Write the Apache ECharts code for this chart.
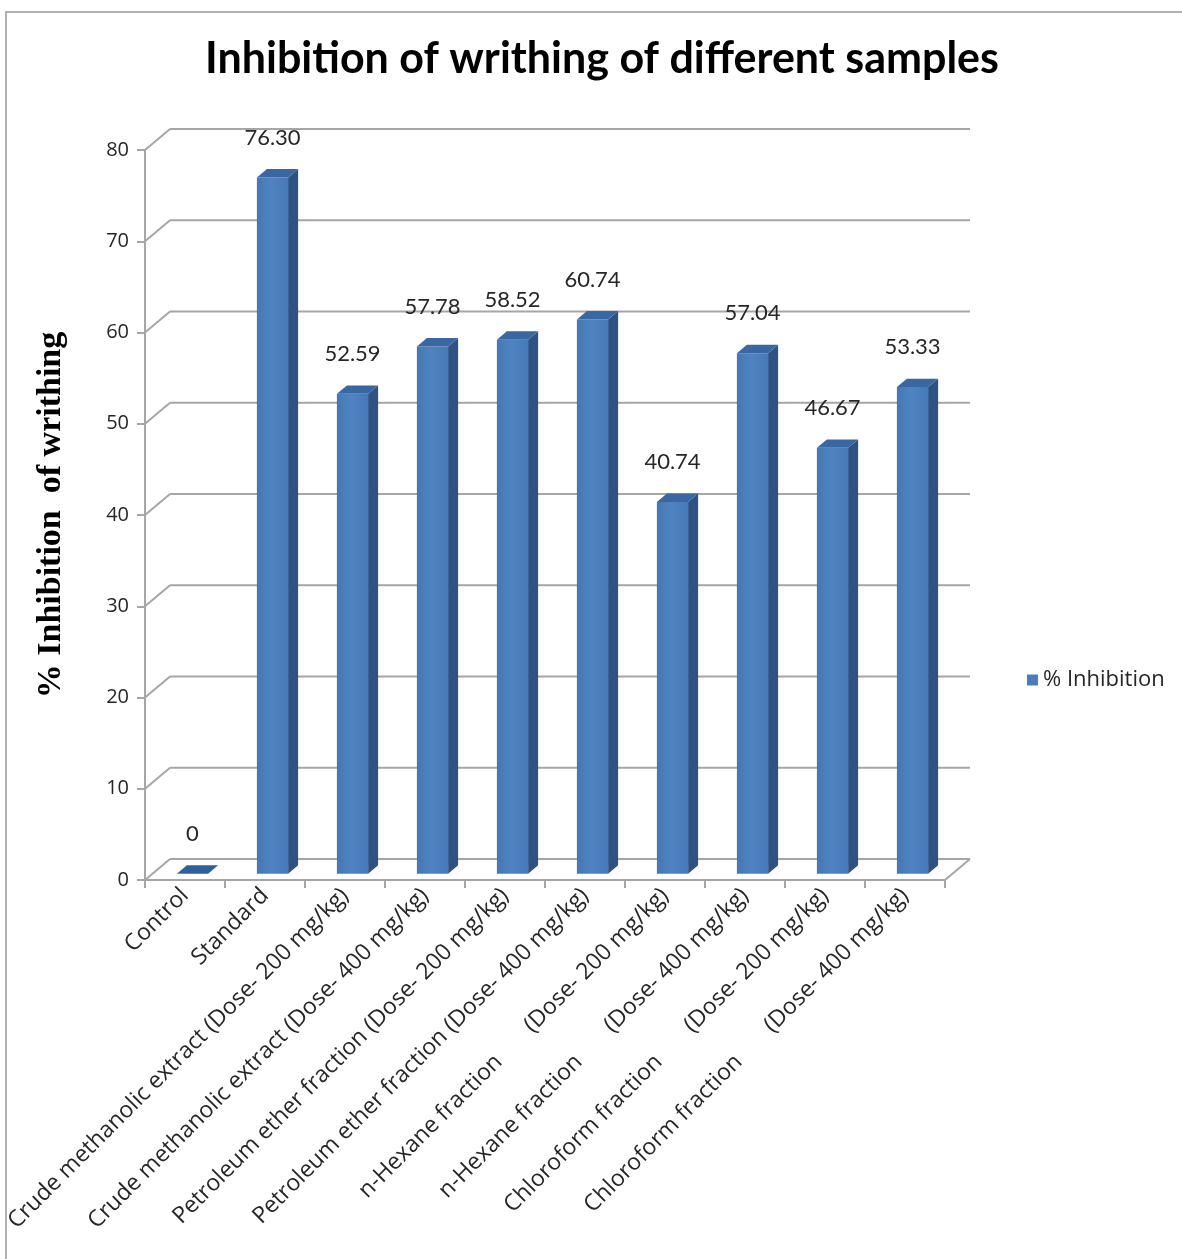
<!DOCTYPE html>
<html>
<head>
<meta charset="utf-8">
<title>Inhibition of writhing of different samples</title>
<script src="https://cdn.jsdelivr.net/npm/echarts@6/dist/echarts.min.js"></script>
<style>
  html, body { margin: 0; padding: 0; background: #ffffff; }
  #chart { width: 1182px; height: 1259px; }
</style>
</head>
<body>
<div id="chart"></div>
<script>
// Sample groups on the category axis
const categories = [
  'Control',
  'Standard',
  'Crude methanolic extract (Dose- 200 mg/kg)',
  'Crude methanolic extract (Dose- 400 mg/kg)',
  'Petroleum ether fraction (Dose- 200 mg/kg)',
  'Petroleum ether fraction (Dose- 400 mg/kg)',
  'n-Hexane fraction       (Dose- 200 mg/kg)',
  'n-Hexane fraction       (Dose- 400 mg/kg)',
  'Chloroform fraction       (Dose- 200 mg/kg)',
  'Chloroform fraction       (Dose- 400 mg/kg)'
];

// % inhibition of writhing per group
const inhibition = [0, 76.30, 52.59, 57.78, 58.52, 60.74, 40.74, 57.04, 46.67, 53.33];

// Value axis ticks
const yTicks = [0, 10, 20, 30, 40, 50, 60, 70, 80];

const seriesName = '% Inhibition';
const titleText = 'Inhibition of writhing of different samples';
const yAxisTitle = '% Inhibition  of writhing';

// Depth of the pseudo-3D box (pixels to the back wall)
const DEPTH_X = 25;
const DEPTH_Y = -21;
// Bars sit between these fractions of the depth
const BAR_FRONT = 0.3;
const BAR_BACK = 0.7;

const FONT_TITLE = 'Lato, "Open Sans", sans-serif';
const FONT = '"Open Sans", Lato, sans-serif';
const GRID_COLOR = '#a6a6a6';
const TEXT_COLOR = '#262626';

const chart = echarts.init(document.getElementById('chart'));

// Back wall gridlines, left wall diagonals and the floor outline
function renderWalls(params, api) {
  const cs = params.coordSys;
  const v = api.value(1);
  const y = api.coord([0, v])[1];
  const x0 = cs.x;
  const x1 = cs.x + cs.width;
  const style = { stroke: GRID_COLOR, lineWidth: 2 };
  const children = [
    { type: 'line', shape: { x1: x0, y1: y, x2: x0 + DEPTH_X, y2: y + DEPTH_Y }, style },
    { type: 'line', shape: { x1: x0 + DEPTH_X, y1: y + DEPTH_Y, x2: x1 + DEPTH_X, y2: y + DEPTH_Y }, style }
  ];
  if (v === yTicks[0]) {
    children.push({ type: 'line', shape: { x1: x1, y1: y, x2: x1 + DEPTH_X, y2: y + DEPTH_Y }, style });
  }
  return { type: 'group', children };
}

// Column drawn as front, side and top faces, with its value above
function renderColumn(params, api) {
  const idx = api.value(0);
  const val = api.value(1);
  const base = api.coord([idx, 0]);
  const top = api.coord([idx, val]);
  const bw = api.size([1, 0])[0] * 0.39;
  const fx = BAR_FRONT * DEPTH_X, fy = BAR_FRONT * DEPTH_Y;
  const dx = (BAR_BACK - BAR_FRONT) * DEPTH_X, dy = (BAR_BACK - BAR_FRONT) * DEPTH_Y;
  const xl = base[0] - bw / 2 + fx;
  const xr = xl + bw;
  const yb = base[1] + fy;
  const yt = top[1] + fy;
  const h = yb - yt;
  const children = [];
  if (h > 0.5) {
    children.push({
      type: 'rect',
      shape: { x: xl, y: yt, width: bw, height: h },
      style: {
        fill: new echarts.graphic.LinearGradient(0, 0, 1, 0, [
          { offset: 0, color: '#4777b3' },
          { offset: 0.45, color: '#4f83c3' },
          { offset: 1, color: '#4779b6' }
        ])
      }
    });
    children.push({
      type: 'polygon',
      shape: { points: [[xr, yt], [xr, yb], [xr + dx, yb + dy], [xr + dx, yt + dy]] },
      style: { fill: '#2e5283' }
    });
  }
  children.push({
    type: 'polygon',
    shape: { points: [[xl, yt], [xr, yt], [xr + dx, yt + dy], [xl + dx, yt + dy]] },
    style: { fill: h > 0.5 ? '#3a66a2' : '#30609c' }
  });
  children.push({
    type: 'text',
    style: {
      text: val === 0 ? '0' : val.toFixed(2),
      x: (xl + xr) / 2,
      y: yt - 40,
      align: 'center',
      verticalAlign: 'middle',
      font: '22px ' + FONT_TITLE,
      fill: TEXT_COLOR
    }
  });
  return { type: 'group', children };
}

const option = {
  animation: false,
  backgroundColor: '#ffffff',
  title: {
    text: titleText,
    left: 597,
    textAlign: 'center',
    top: 33,
    textStyle: { fontFamily: FONT_TITLE, fontWeight: 'bold', fontSize: 43, color: '#000000' }
  },
  legend: {
    data: [seriesName],
    left: 1022,
    top: 664,
    orient: 'vertical',
    icon: 'rect',
    itemWidth: 11,
    itemHeight: 11,
    itemGap: 6,
    textStyle: { fontFamily: FONT, fontSize: 22, color: TEXT_COLOR }
  },
  graphic: [{
    type: 'polyline',
    shape: { points: [[6, 1259], [6, 12], [1182, 12]] },
    style: { stroke: '#b0b0b0', lineWidth: 2, fill: null },
    z: 0
  }],
  grid: { left: 145, top: 150, width: 800, height: 730 },
  xAxis: {
    type: 'category',
    data: categories,
    boundaryGap: true,
    axisLine: { lineStyle: { color: GRID_COLOR, width: 2 } },
    axisTick: { show: true, alignWithLabel: false, length: 8, lineStyle: { color: GRID_COLOR, width: 2 } },
    axisLabel: {
      interval: 0,
      rotate: 45,
      margin: 12,
      fontFamily: FONT,
      fontSize: 23,
      color: TEXT_COLOR
    },
    splitLine: { show: false }
  },
  yAxis: {
    type: 'value',
    min: 0,
    max: 80,
    interval: 10,
    name: yAxisTitle,
    nameLocation: 'middle',
    nameRotate: 90,
    nameGap: 77,
    nameTextStyle: { fontFamily: '"Liberation Serif", serif', fontWeight: 'bold', fontSize: 34, color: '#000000' },
    axisLine: { show: true, lineStyle: { color: GRID_COLOR, width: 2 } },
    axisTick: { show: true, length: 8, lineStyle: { color: GRID_COLOR, width: 2 } },
    axisLabel: { margin: 16, fontFamily: FONT, fontSize: 20, color: TEXT_COLOR },
    splitLine: { show: false }
  },
  series: [
    {
      type: 'custom',
      name: 'walls',
      silent: true,
      z: 1,
      renderItem: renderWalls,
      data: yTicks.map(v => [0, v])
    },
    {
      type: 'custom',
      name: seriesName,
      z: 3,
      color: '#4a7ebb',
      renderItem: renderColumn,
      data: inhibition.map((v, i) => [i, v])
    }
  ]
};

chart.setOption(option);
</script>
</body>
</html>
